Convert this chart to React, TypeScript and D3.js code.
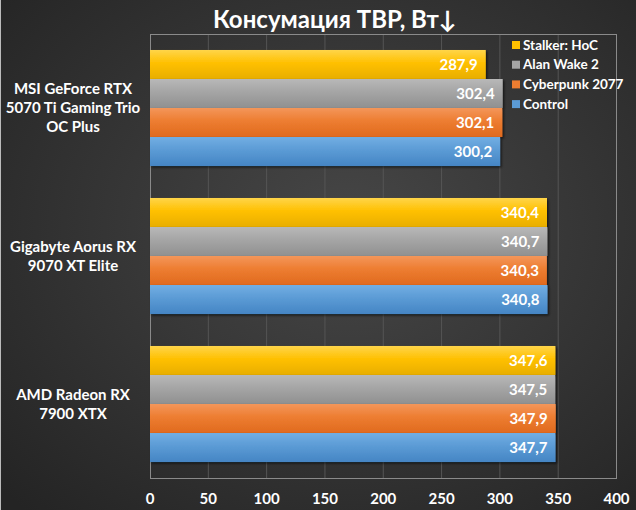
import React from "react";
import * as d3 from "d3";

const categories = ["MSI GeForce RTX\n5070 Ti Gaming Trio\nOC Plus", "Gigabyte Aorus RX\n9070 XT Elite", "AMD Radeon RX\n7900 XTX"];
const seriesNames = ["Stalker: HoC", "Alan Wake 2", "Cyberpunk 2077", "Control"];
const stalker = [287.9, 340.4, 347.6];
const alanWake = [302.4, 340.7, 347.5];
const cyberpunk = [302.1, 340.3, 347.9];
const control = [300.2, 340.8, 347.7];
const xTicks = [0, 50, 100, 150, 200, 250, 300, 350, 400];
const title = "Консумация TBP, Вт↓";

const seriesValues = [stalker, alanWake, cyberpunk, control];
const colors = [
  ["#FFD54A", "#FFC000", "#E8AE00"],
  ["#B8B8B8", "#A5A5A5", "#909090"],
  ["#F4965A", "#ED7D31", "#E06A1E"],
  ["#72AEE3", "#5B9BD5", "#4585C4"],
];

const W = 636, H = 510;
const plot = { left: 150, right: 616, top: 34, bottom: 478 };
const FONT = "Lato, 'Noto Sans', sans-serif";

export default function App() {
  const x = d3.scaleLinear().domain([0, 400]).range([plot.left, 616.5]);
  const y0 = d3.scaleBand<number>().domain(d3.range(categories.length)).range([plot.top, plot.bottom]).paddingInner(0.216).paddingOuter(0.108);
  const y1 = d3.scaleBand<number>().domain(d3.range(seriesNames.length)).range([0, y0.bandwidth()]);
  const fmt = (v: number) => v.toFixed(1).replace(".", ",");
  return (
    <svg width={W} height={H} style={{ position: "absolute", left: 0, top: 0 }} fontFamily={FONT}>
      <defs>
        <radialGradient id="bg" cx="55%" cy="45%" r="75%">
          <stop offset="0%" stopColor="#474747" />
          <stop offset="100%" stopColor="#242424" />
        </radialGradient>
        {colors.map((c, i) => (
          <linearGradient key={i} id={`g${i}`} x1="0" y1="0" x2="0" y2="1">
            <stop offset="0%" stopColor={c[0]} />
            <stop offset="45%" stopColor={c[1]} />
            <stop offset="100%" stopColor={c[2]} />
          </linearGradient>
        ))}
        <filter id="sh" x="-5%" y="-20%" width="110%" height="150%">
          <feDropShadow dx="1.5" dy="1.5" stdDeviation="1" floodColor="#000" floodOpacity="0.6" />
        </filter>
      </defs>
      <rect x={0} y={0} width={W} height={H} fill="url(#bg)" />
      <line x1={0.5} y1={0} x2={0.5} y2={H} stroke="#bbb" />
      {xTicks.slice(1, -1).map((t) => (
        <line key={t} x1={x(t)} x2={x(t)} y1={plot.top} y2={plot.bottom} stroke="#555" strokeWidth={1} />
      ))}
      <rect x={plot.left + 0.5} y={plot.top + 0.5} width={plot.right - plot.left} height={plot.bottom - plot.top} fill="none" stroke="#8a8a8a" />
      {categories.map((cat, ci) => (
        <g key={ci} transform={`translate(0,${y0(ci)})`}>
          {seriesValues.map((vals, si) => (
            <rect key={si} x={x(0)} y={y1(si)} width={x(vals[ci]) - x(0)} height={y1.bandwidth()} fill={`url(#g${si})`} filter="url(#sh)" />
          ))}
          {seriesValues.map((vals, si) => (
            <text key={si} x={x(vals[ci]) - 8} y={(y1(si) as number) + y1.bandwidth() / 2} dy="0.35em" textAnchor="end" fill="#fff" fontWeight="bold" fontSize={15}>
              {fmt(vals[ci])}
            </text>
          ))}
        </g>
      ))}
      {categories.map((cat, ci) => {
        const lines = cat.split("\n");
        const cy = (y0(ci) as number) + y0.bandwidth() / 2;
        return (
          <text key={ci} x={73} textAnchor="middle" fill="#fff" fontWeight="bold" fontSize={15}>
            {lines.map((l, li) => (
              <tspan key={li} x={73} y={cy + (li - (lines.length - 1) / 2) * 19} dy="0.35em">{l}</tspan>
            ))}
          </text>
        );
      })}
      {xTicks.map((t) => (
        <text key={t} x={x(t)} y={499} dy="0.35em" textAnchor="middle" fill="#fff" fontWeight="bold" fontSize={15}>{t}</text>
      ))}
      {seriesNames.map((n, i) => (
        <g key={n} transform={`translate(512,${45 + i * 19.7})`}>
          <rect x={0} y={-4} width={8} height={8} fill={colors[i][1]} />
          <text x={11} dy="0.35em" fill="#fff" fontWeight="bold" fontSize={13.5}>{n}</text>
        </g>
      ))}
      <text x={335} y={20} dy="0.35em" textAnchor="middle" fill="#fff" fontWeight="bold" fontSize={24}>{title}</text>
    </svg>
  );
}
